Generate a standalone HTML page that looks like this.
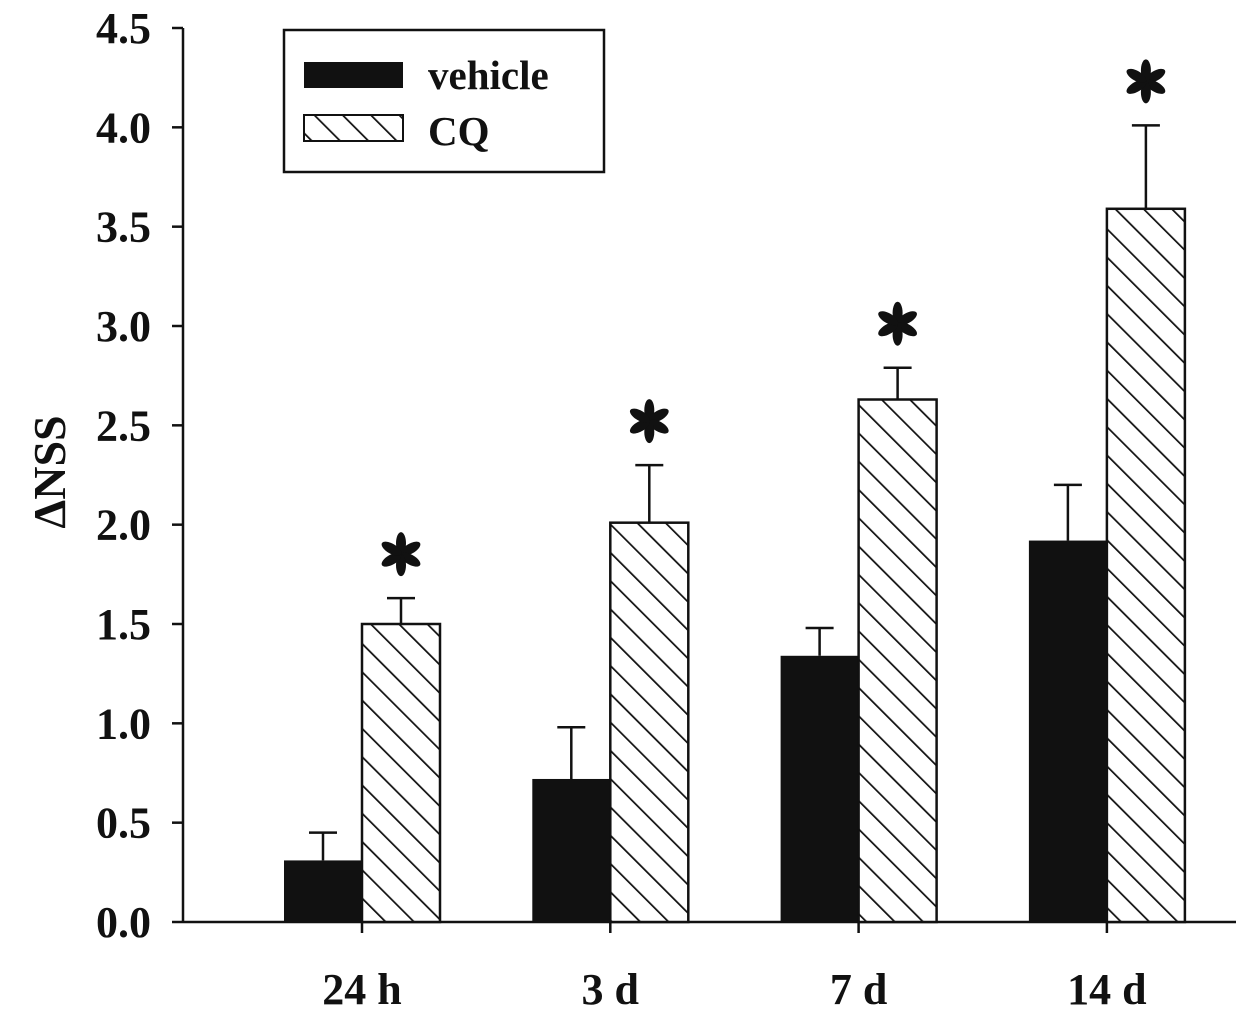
<!DOCTYPE html>
<html><head><meta charset="utf-8"><style>
html,body{margin:0;padding:0;background:#fff;}
svg text{font-family:"Liberation Serif",serif;font-weight:bold;fill:#111;}
</style></head><body>
<svg id="chart" width="1236" height="1018" viewBox="0 0 1236 1018" xmlns="http://www.w3.org/2000/svg">
<defs>
<pattern id="hatch" patternUnits="userSpaceOnUse" width="20" height="20" patternTransform="rotate(-45)">
<rect width="20" height="20" fill="#fff"/>
<line x1="0" y1="0" x2="0" y2="20" stroke="#111" stroke-width="3.5"/>
</pattern>
<g id="ast">
<ellipse cx="0" cy="-11" rx="5" ry="11" fill="#111"/>
<ellipse cx="0" cy="-11" rx="5" ry="11" fill="#111" transform="rotate(60)"/>
<ellipse cx="0" cy="-11" rx="5" ry="11" fill="#111" transform="rotate(120)"/>
<ellipse cx="0" cy="-11" rx="5" ry="11" fill="#111" transform="rotate(180)"/>
<ellipse cx="0" cy="-11" rx="5" ry="11" fill="#111" transform="rotate(240)"/>
<ellipse cx="0" cy="-11" rx="5" ry="11" fill="#111" transform="rotate(300)"/>
</g>
</defs>
<g id="plot"></g>
<g>
<rect x="284" y="30" width="320" height="142" fill="#fff" stroke="#111" stroke-width="2.5"/>
<rect x="304" y="62" width="99" height="26" fill="#111"/>
<text x="428" y="89" font-size="41">vehicle</text>
<rect x="304" y="115" width="99" height="26" fill="url(#hatch)" stroke="#111" stroke-width="2"/>
<text x="428" y="145" font-size="41">CQ</text>
</g>
<text transform="translate(65,472) rotate(-90)" text-anchor="middle" font-size="46">ΔNSS</text>
</svg>
<script>
const categories = ["24 h","3 d","7 d","14 d"];
const vehicle = [0.31, 0.72, 1.34, 1.92];
const vehicleErr = [0.14, 0.26, 0.14, 0.28];
const cq = [1.50, 2.01, 2.63, 3.59];
const cqErr = [0.13, 0.29, 0.16, 0.42];
const yTicks = ["0.0","0.5","1.0","1.5","2.0","2.5","3.0","3.5","4.0","4.5"];

const NS = "http://www.w3.org/2000/svg";
const g = document.getElementById("plot");
const x0 = 183, y0 = 922, yTop = 28, yMax = 4.5;
const y = v => y0 - v / yMax * (y0 - yTop);
const xc = i => 362 + i * 248.3;
const bw = 78;
function mk(tag, attrs) { const e = document.createElementNS(NS, tag); for (const k in attrs) e.setAttribute(k, attrs[k]); g.appendChild(e); return e; }

let ax = mk("line", {x1:x0, y1:yTop, x2:x0, y2:y0+1, stroke:"#111", "stroke-width":2.5});


let xa = mk("line", {x1:x0, y1:y0, x2:1236, y2:y0, stroke:"#111", "stroke-width":2.5});



yTicks.forEach(t => {
  const yy = y(parseFloat(t));
  const l = mk("line", {x1:x0-11, y1:yy, x2:x0, y2:yy, stroke:"#111", "stroke-width":2.5});
  
  
  const tx = mk("text", {x:151, y:yy+15, "text-anchor":"end", "font-size":44});
  tx.textContent = t;
  
  
});

categories.forEach((c, i) => {
  const cx = xc(i);
  const tk = mk("line", {x1:cx, y1:y0, x2:cx, y2:y0+11, stroke:"#111", "stroke-width":2.5});
  
  
  const lb = mk("text", {x:cx, y:1004, "text-anchor":"middle", "font-size":44});
  lb.textContent = c;
  
  

  const vx = cx - bw, vy = y(vehicle[i]), vcx = cx - bw/2;
  const ve = mk("path", {d:`M${vcx},${vy} V${y(vehicle[i]+vehicleErr[i])} M${vcx-14},${y(vehicle[i]+vehicleErr[i])} H${vcx+14}`, stroke:"#111", "stroke-width":2.5, fill:"none"});
  
  
  const vb = mk("rect", {x:vx, y:vy, width:bw, height:y0-vy, fill:"#111"});
  
  

  const qy = y(cq[i]), qcx = cx + bw/2, qe = y(cq[i]+cqErr[i]);
  const ee = mk("path", {d:`M${qcx},${qy} V${qe} M${qcx-14},${qe} H${qcx+14}`, stroke:"#111", "stroke-width":2.5, fill:"none"});
  
  
  const qb = mk("rect", {x:cx, y:qy, width:bw, height:y0-qy, fill:"url(#hatch)", stroke:"#111", "stroke-width":2.5});
  
  
  const as = mk("use", {href:"#ast", transform:`translate(${qcx},${qe-44})`});
  
  
});
</script>
</body></html>
